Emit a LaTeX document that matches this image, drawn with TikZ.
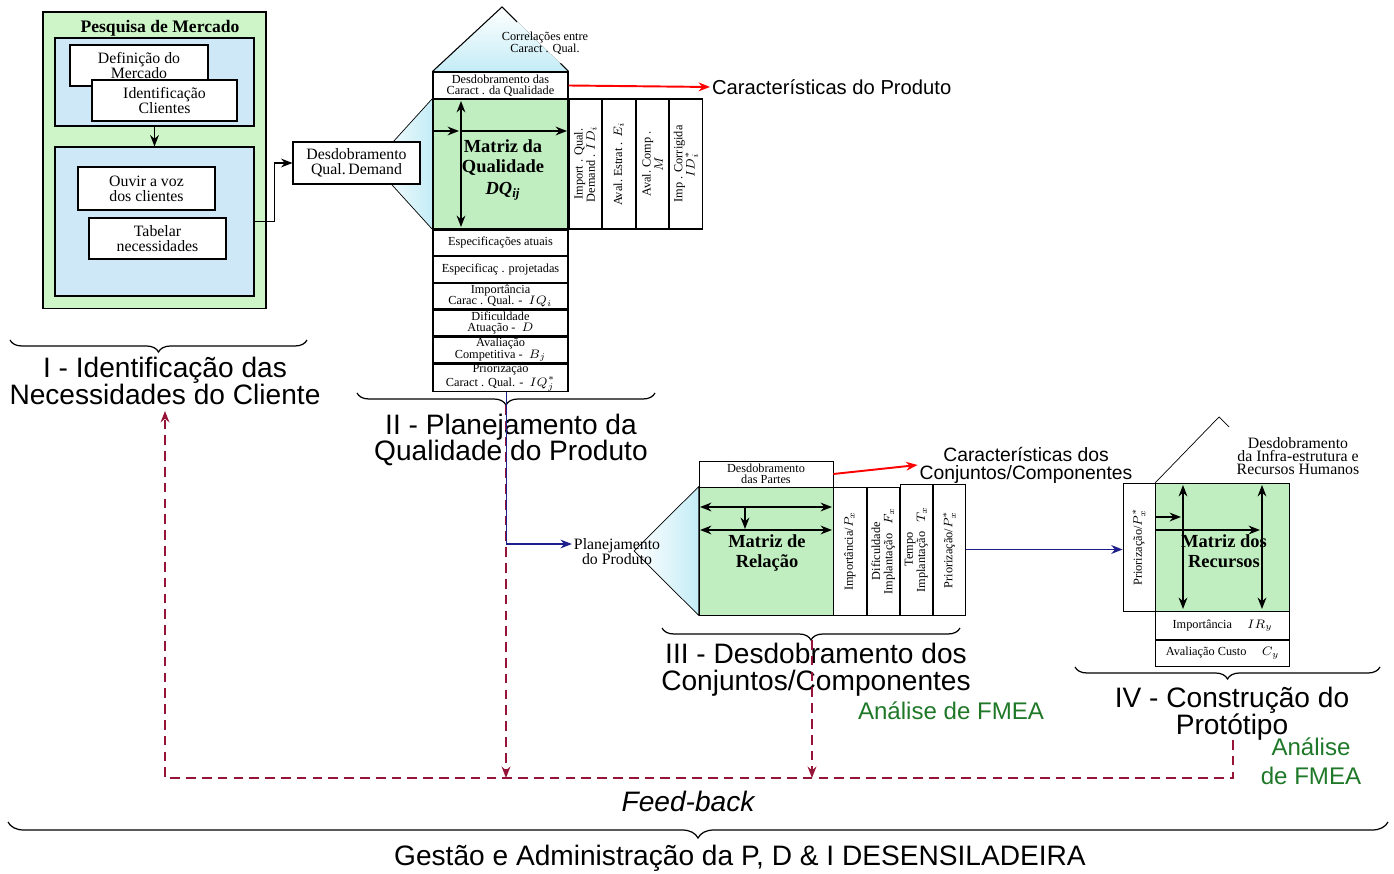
\documentclass[tikz,border=0pt]{standalone}
\usepackage{fontspec}
\setmainfont{Liberation Serif}
\setsansfont{Liberation Sans}
\usetikzlibrary{positioning}
\usetikzlibrary{calc}
\usetikzlibrary{backgrounds}
\usetikzlibrary{arrows.meta}
\usetikzlibrary{decorations.pathreplacing}
\definecolor{pesqgreen}{RGB}{205,245,200}
\definecolor{pesqblue}{RGB}{207,232,247}
\definecolor{matgreen}{RGB}{192,238,192}
\definecolor{wingblue}{RGB}{196,236,246}
\definecolor{fbred}{RGB}{150,20,55}
\definecolor{planblue}{RGB}{30,30,140}
\definecolor{fmeagreen}{RGB}{30,120,40}

\begin{document}
\begin{tikzpicture}[x=0.02cm,y=-0.02cm,semithick,
         >={Stealth[length=6.5pt,width=5pt]},
         box/.style={draw,fill=white,inner sep=0pt,font=\fontsize{9}{8.5}\selectfont},
         cell/.style={draw,fill=white,inner sep=0pt,minimum width=2.7cm,minimum height=0.51cm,font=\fontsize{7}{6.4}\selectfont},
         vcol/.style={draw,fill=white,inner sep=0pt,minimum width=0.65cm},
         coltxt/.style={rotate=90,inner sep=0pt,font=\fontsize{7}{7}\selectfont},
         matx/.style={draw,fill=matgreen,inner sep=0pt},
         mattxt/.style={font=\fontsize{10.5}{11.5}\selectfont\bfseries},
         marr/.style={line width=0.85pt},
         outpt/.style={->,line width=0.9pt},
         redarr/.style={->,red,line width=1.1pt},
         bluearr/.style={->,planblue,line width=0.9pt},
         fb/.style={fbred,line width=1.1pt,dash pattern=on 5.5pt off 3.5pt},
         phase/.style={font=\sffamily\fontsize{16}{15.3}\selectfont},
         fmea/.style={text=fmeagreen,font=\sffamily\fontsize{13.7}{16.4}\selectfont},
         brc/.style={decorate,decoration={brace,mirror,amplitude=0.24cm},line width=0.7pt},
      every node/.append style={align=center}]
      \useasboundingbox (0,0) rectangle (1394,874);
      %
      % I - Pesquisa de Mercado
         \node (pesq) at (154.5,160.5) [draw,fill=pesqgreen,minimum width=4.46cm,minimum height=5.94cm] {};
         \node (pesqt) at (160,28) [font=\fontsize{10}{10}\selectfont\bfseries] {Pesquisa de Mercado};
         \node (bluea) at (154.5,82) [draw,fill=pesqblue,minimum width=3.98cm,minimum height=1.76cm] {};
         \node (defm) at (139,65.5) [box,minimum width=2.76cm,minimum height=0.82cm] {Definição do\\Mercado};
         \node (idcl) at (164.5,100.5) [box,minimum width=2.9cm,minimum height=0.82cm] {Identificação\\Clientes};
         \node (blueb) at (154.5,221.5) [draw,fill=pesqblue,minimum width=3.98cm,minimum height=2.98cm] {};
         \node (ouvir) at (146.5,188.5) [box,minimum width=2.74cm,minimum height=0.86cm] {Ouvir a voz\\dos clientes};
         \node (tabel) at (157.5,238.5) [box,minimum width=2.74cm,minimum height=0.82cm] {Tabelar\\necessidades};
         \draw[outpt] (bluea) -- (blueb);
      %
         \node (desdqd) at (356.5,163) [box,minimum width=2.54cm,minimum height=0.84cm] {Desdobramento\\Qual.\,Demand};
         \draw[outpt] (blueb.east) -- ++(20,0) |- (desdqd.west);
      %%
      % II - Matriz da Qualidade
         \node (desdcq) at (500.5,85.5) [cell,minimum height=0.54cm] {Desdobramento das\\Caract . da Qualidade};
         \node (matq) at (500.5,164) [matx,minimum width=2.7cm,minimum height=2.6cm] {};
         \node (c1) [vcol,minimum height=2.6cm,right=0pt of matq] {};
         \node (c2) [vcol,minimum height=2.6cm,right=0pt of c1] {};
         \node (c3) [vcol,minimum height=2.6cm,right=0pt of c2] {};
         \node (c4) [vcol,minimum height=2.6cm,right=0pt of c3] {};
         \node (c1t) at (c1) [coltxt] {Import . Qual.\\Demand . $ID_i$};
         \node (c2t) at (c2) [coltxt] {Aval.\ Estrat . $E_i$};
         \node (c3t) at (c3) [coltxt] {Aval.\ Comp .\\$M$};
         \node (c4t) at (c4) [coltxt] {Imp . Corrigida\\$ID^{*}_{i}$};
         \node (r1) [cell,below=0pt of matq] {Especificações atuais};
         \node (r2) [cell,below=0pt of r1] {Especificaç\ . projetadas};
         \node (r3) [cell,thick,below=0pt of r2] {Importância\\Carac . Qual. - \ $IQ_i$};
         \node (r4) [cell,thick,below=0pt of r3] {Dificuldade\\Atuação - \ $D$};
         \node (r5) [cell,thick,below=0pt of r4] {Avaliação\\Competitiva - \ $B_j$};
         \node (r6) [cell,thick,below=0pt of r5] {Priorização\\Caract . Qual. - \ $IQ_j^{*}$};
         \draw[marr,<->] (461,101) -- (461,227);
         \draw[marr,->] (433,131) -- (459,131);
         \draw[marr,->] (461,131) -- (567,131);
         \node (matqt) at (503,170) [mattxt] {Matriz da\\Qualidade\\[1pt]\textit{DQ\textsubscript{ij}}};
         \coordinate (roofq) at (502,7);
         \coordinate (wingq) at (373,164);
         \draw (desdcq.north west) -- (roofq) -- +(15,15);
         \draw (desdcq.north east) -- +(-8,-8);
         \node (corr) at (545,43) [font=\fontsize{7}{7}\selectfont] {Correlações entre\\Caract . Qual.};
         \begin{pgfonlayer}{background}
            \fill[top color=white,bottom color=wingblue] (desdcq.north west) -- (roofq) -- (desdcq.north east) -- cycle;
            \path[draw,left color=white,right color=wingblue] (wingq) -- (matq.north west) -- (matq.south west) -- cycle;
         \end{pgfonlayer}
         \node (carprod) at (710,87) [anchor=west,inner sep=1pt,font=\sffamily\fontsize{11.5}{12}\selectfont] {Características do Produto};
         \draw[redarr] (desdcq.east) -- (carprod.west);
      %%
      % III - Matriz de Relacao
         \node (desdp) at (766,474) [cell,minimum width=2.68cm,minimum height=0.52cm] {Desdobramento\\das Partes};
         \node (matr) at (766,551) [matx,minimum width=2.68cm,minimum height=2.56cm] {};
         \node (d1) [vcol,minimum height=2.56cm,right=0pt of matr] {};
         \node (d2) [vcol,minimum height=2.56cm,right=0pt of d1] {};
         \node (d3) [vcol,minimum height=2.62cm,right=0pt of d2.south east,anchor=south west] {};
         \node (d4) [vcol,minimum height=2.62cm,right=0pt of d3] {};
         \node (d1t) at (d1) [coltxt] {Importância/$P_x$};
         \node (d2t) at (d2) [coltxt] {Dificuldade\\Implantação \ \ $F_x$};
         \node (d3t) at (d3) [coltxt] {Tempo\\Implantação \ \ $T_x$};
         \node (d4t) at (d4) [coltxt] {Priorização/$P^{*}_{x}$};
         \draw[marr,<->] (700,507) -- (832,507);
         \draw[marr,<->] (700,530) -- (832,530);
         \draw[marr,->] (745,507) -- (745,529);
         \node (matrt) at (767,553) [mattxt] {Matriz de\\Relação};
         \coordinate (wingr) at (634,551);
         \begin{pgfonlayer}{background}
            \path[draw,left color=white,right color=wingblue] (wingr) -- (matr.north west) -- (matr.south west) -- cycle;
         \end{pgfonlayer}
         \node (cardos) at (1026,465) [inner sep=1pt,font=\sffamily\fontsize{11}{10.2}\selectfont] {Características dos\\Conjuntos/Componentes};
         \draw[redarr] (desdp.east) -- (cardos.west);
      %%
      % IV - Matriz dos Recursos
         \node (prio3) at (1139,547) [vcol,minimum width=0.64cm,minimum height=2.56cm] {};
         \node (prio3t) at (prio3) [coltxt] {Priorização/$P^{*}_{x}$};
         \node (matrec) [matx,minimum width=2.68cm,minimum height=2.56cm,right=0pt of prio3] {};
         \node (imprec) [cell,minimum width=2.68cm,minimum height=0.56cm,below=0pt of matrec] {Importância \quad $IR_y$};
         \node (avcust) [cell,minimum width=2.68cm,minimum height=0.52cm,below=0pt of imprec] {Avaliação Custo \quad $C_y$};
         \draw[marr,<->] (1183,485) -- (1183,609);
         \draw[marr,<->] (1262,485) -- (1262,609);
         \draw[marr,->] (1156,517) -- (1181,517);
         \draw[marr,->] (1156,530) -- (1260,530);
         \node (matrect) at (1224,551) [mattxt] {Matriz dos\\Recursos};
         \coordinate (roofr) at (1219,417);
         \draw (matrec.north west) -- (roofr) -- +(10,10);
         \node (infra) at (1298,456) [font=\fontsize{9}{7.6}\selectfont] {Desdobramento\\da Infra-estrutura e\\Recursos Humanos};
         \draw[bluearr] (d4.east) -- (d4.east -| prio3.west);
      %%
      % fases
         \draw[brc] (10,340) -- (307,340);
         \node (labI) at (165,381) [phase] {I - Identificação das\\Necessidades do Cliente};
         \draw[brc] (357,393) -- (655,393);
         \node (labII) at (511,440) [phase] {II - Planejamento da\\Qualidade do Produto};
         \draw[brc] (662,628) -- (960,628);
         \node (labIII) at (816,670) [phase] {III - Desdobramento dos\\Conjuntos/Componentes};
         \draw[brc] (1075,667) -- (1380,667);
         \node (labIV) at (1232,714) [phase] {IV - Construção do\\Protótipo};
         \node (fmea3) at (951,711) [fmea] {Análise de FMEA};
         \node (fmea4) at (1311,761) [fmea] {Análise\\de FMEA};
      %
      % feed-back
         \coordinate (tipII) at (506,405);
         \coordinate (tipIII) at (812,640);
         \coordinate (fbl) at (165,778);
         \coordinate (fbr) at (1233,778);
         \coordinate (fbt) at (1233,740);
         \draw[fb,->] (fbt) -- (fbr) -- (fbl) -- (labI.south);
         \draw[fb,->] (tipII) -- (tipII |- fbl);
         \draw[fb,->] (tipIII) -- (tipIII |- fbl);
         \node (plan) at (617,552) [inner sep=1pt,font=\fontsize{9}{8.5}\selectfont] {Planejamento\\do Produto};
         \draw[bluearr] ([xshift=0.12cm]r6.south) |- ([yshift=0.16cm]plan.west);
         \node (fback) at (688,801) [font=\sffamily\itshape\fontsize{16}{16}\selectfont] {Feed-back};
         \draw[brc,decoration={brace,mirror,amplitude=0.32cm}] (8,822) -- (1388,822);
         \node (gestao) at (740,858) [phase] {Gestão e Administração da P, D \& I DESENSILADEIRA};
   \end{tikzpicture}
\end{document}
